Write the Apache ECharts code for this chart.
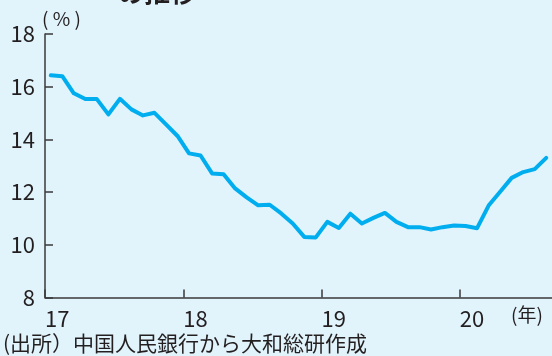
<!DOCTYPE html>
<html>
<head>
<meta charset="utf-8">
<script src="https://cdn.jsdelivr.net/npm/echarts@6/dist/echarts.min.js"></script>
<style>
  html, body { margin: 0; padding: 0; background: #e1f3fb; }
  #chart { width: 552px; height: 356px; }
</style>
</head>
<body>
<div id="chart"></div>
<script>
// monthly values, Jan 2017 - Aug 2020 (%)
var years = ['17', '18', '19', '20'];
var months = [
  '2017-01','2017-02','2017-03','2017-04','2017-05','2017-06','2017-07','2017-08','2017-09','2017-10','2017-11','2017-12',
  '2018-01','2018-02','2018-03','2018-04','2018-05','2018-06','2018-07','2018-08','2018-09','2018-10','2018-11','2018-12',
  '2019-01','2019-02','2019-03','2019-04','2019-05','2019-06','2019-07','2019-08','2019-09','2019-10','2019-11','2019-12',
  '2020-01','2020-02','2020-03','2020-04','2020-05','2020-06','2020-07','2020-08'
];
var values = [
  16.43, 16.40, 15.75, 15.53, 15.53, 14.95, 15.54, 15.14, 14.91, 15.01, 14.57, 14.13,
  13.47, 13.39, 12.71, 12.68, 12.14, 11.80, 11.50, 11.52, 11.19, 10.81, 10.30, 10.28,
  10.87, 10.64, 11.18, 10.81, 11.02, 11.21, 10.87, 10.67, 10.67, 10.58, 10.67, 10.73,
  10.71, 10.63, 11.49, 12.01, 12.54, 12.76, 12.87, 13.30
];
var yTicks = [8, 10, 12, 14, 16, 18];

var textColor = '#231f20';
var axisColor = '#3a3a3a';
var font = '"Noto Sans CJK JP", "Noto Sans", sans-serif';

var points = months.map(function (m, i) { return [i + 0.5, values[i]]; });

var chart = echarts.init(document.getElementById('chart'));
chart.setOption({
  backgroundColor: '#e1f3fb',
  animation: false,
  grid: { left: 45, top: 34, width: 508, height: 263.5 },
  xAxis: {
    type: 'value',
    min: 0,
    max: months.length,
    interval: 12,
    axisLine: { show: true, lineStyle: { color: axisColor, width: 1.5 } },
    axisTick: { show: true, inside: true, length: 8, lineStyle: { color: axisColor, width: 1.5 } },
    splitLine: { show: false },
    axisLabel: {
      showMaxLabel: false,
      align: 'left',
      margin: 10,
      fontSize: 22,
      fontFamily: font,
      color: textColor,
      formatter: function (v) { return years[v / 12] || ''; }
    }
  },
  yAxis: {
    type: 'value',
    min: yTicks[0],
    max: yTicks[yTicks.length - 1],
    interval: 2,
    axisLine: { show: true, lineStyle: { color: axisColor, width: 1.5 } },
    axisTick: { show: true, inside: true, length: 8, lineStyle: { color: axisColor, width: 1.5 } },
    splitLine: { show: false },
    axisLabel: { margin: 10, fontSize: 22, fontFamily: font, color: textColor }
  },
  series: [{
    type: 'line',
    data: points,
    symbol: 'none',
    lineStyle: { color: '#00aeef', width: 4, join: 'round', cap: 'round' }
  }],
  graphic: [
    { type: 'text', left: 118, top: -21, style: { text: 'の推移', fontSize: 26, fontWeight: 'bold', fontFamily: font, fill: textColor } },
    { type: 'text', left: 42, top: 9, style: { text: '( % )', fontSize: 19, fontFamily: font, fill: textColor } },
    { type: 'text', left: 511, top: 305, style: { text: '(年)', fontSize: 19, fontFamily: font, fill: textColor } },
    { type: 'text', left: 3, top: 333, style: { text: '(出所）中国人民銀行から大和総研作成', fontSize: 21, fontFamily: font, fill: textColor } }
  ]
});
</script>
</body>
</html>
